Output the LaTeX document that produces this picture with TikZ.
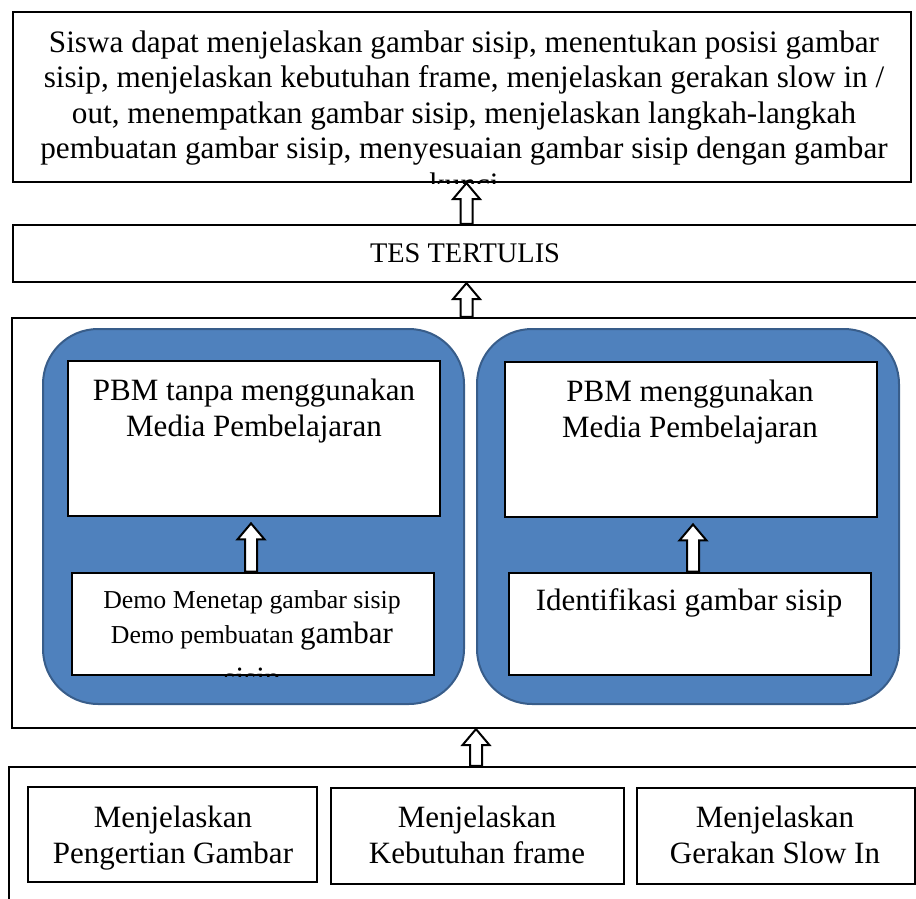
\documentclass[tikz,border=0pt]{standalone}
\usepackage{fontspec}
\setmainfont{Liberation Serif}
\usetikzlibrary{calc,fit,positioning}

\definecolor{panelfill}{HTML}{4F81BD}
\definecolor{paneldraw}{HTML}{385D8A}

\newcommand{\bodysize}{\fontsize{15.5}{18}\selectfont}
\newcommand{\demosize}{\fontsize{12.9}{17.5}\selectfont}

% hollow block arrow from the lower box (#1) up to the upper box (#2)
\newcommand{\liftarrow}[2]{%
  \draw[hollow] let \p1 = (#1), \p2 = (#2) in
    (\x1,\y2) -- (\x1-6.75pt,\y2-8pt) -- (\x1-3pt,\y2-8pt) -- (\x1-3pt,\y1)
    -- (\x1+3pt,\y1) -- (\x1+3pt,\y2-8pt) -- (\x1+6.75pt,\y2-8pt) -- cycle;}

\begin{document}
\begin{tikzpicture}[x=0.5pt, y=-0.5pt,
    frame/.style={rectangle, draw, line width=1.1pt, inner sep=0pt},
    card/.style={rectangle, draw, fill=white, line width=1.4pt, inner sep=0pt},
    panel/.style={rectangle, draw=paneldraw, fill=panelfill, line width=1pt, rounded corners=27.5pt, inner sep=0pt},
    caption/.style={inner sep=0pt, align=center, font=\bodysize},
    hollow/.style={draw, fill=white, line width=1pt, line join=miter}
  ]
  \clip (0,0) rectangle (916,899);

  % Frames
  \node[frame, fit={(13,12) (911,182)}] (goal) {};
  \node[frame, fit={(13,225) (920,282)}] (test) {};
  \node[frame, fit={(12,318) (940,728)}] (learning) {};
  \node[frame, fit={(9,767) (940,960)}] (material) {};

  % Panels: without and with media
  \node[panel, fit={(43,329) (464,704)}] (plain) {};
  \node[panel, fit={(477,329) (899,704)}] (media) {};

  \node[card, fit={(68,361) (440,516)}] (plainpbm) {};
  \node[card, fit={(72,573) (434,675)}] (demo) {};
  \node[card, fit={(505,362) (877,517)}] (mediapbm) {};
  \node[card, fit={(509,573) (871,675)}] (identify) {};

  % Material boxes
  \node[card, fit={(28,787) (317,882)}] (meaning) {};
  \node[card, fit={(331,788) (624,884)}] (frames) {};
  \node[card, fit={(637,788) (915,884)}] (slowin) {};

  % Texts
  \begin{scope}
    \clip (goal.south west) rectangle (goal.north east);
    \node[caption, anchor=north, font=\fontsize{15.6}{17.8}\selectfont] (goaltext) at (464,30)
      {Siswa dapat menjelaskan gambar sisip, menentukan posisi gambar\\
       sisip, menjelaskan kebutuhan frame, menjelaskan gerakan slow in /\\
       out, menempatkan gambar sisip, menjelaskan langkah-langkah\\
       pembuatan gambar sisip, menyesuaian gambar sisip dengan gambar\\
       kunci};
  \end{scope}

  \node[caption, anchor=base, font=\fontsize{14.2}{16}\selectfont] (testtext) at (465,263) {TES TERTULIS};

  \node[caption, anchor=north] (plaintext) at (254,379)
    {PBM tanpa menggunakan\\ Media Pembelajaran};
  \node[caption, anchor=north] (mediatext) at (690,380)
    {PBM menggunakan\\ Media Pembelajaran};

  \begin{scope}
    \clip (demo.south west) rectangle (demo.north east);
    \node[caption, anchor=north, font=\fontsize{15.5}{17.5}\selectfont] (demotext) at (252,590)
      {{\demosize Demo Menetap gambar sisip}\\
       {\demosize Demo pembuatan }gambar\\[5pt]
       sisip};
  \end{scope}

  \node[caption, anchor=base] (identifytext) at (689,610) {Identifikasi gambar sisip};

  \node[caption, anchor=north] (meaningtext) at (173,806) {Menjelaskan\\ Pengertian Gambar};
  \node[caption, anchor=north] (framestext) at (477,806) {Menjelaskan\\ Kebutuhan frame};
  \node[caption, anchor=north] (slowintext) at (775,806) {Menjelaskan\\ Gerakan Slow In};

  % Arrows
  \liftarrow{test.north}{goal.south}
  \liftarrow{learning.north -| test.south}{test.south}
  \liftarrow{material.north -| learning.south}{learning.south}
  \liftarrow{$(demo.north)+(-2,0)$}{$(plainpbm.south)+(0,6)$}
  \liftarrow{$(identify.north)+(3,0)$}{$(mediapbm.south)+(0,6)$}
\end{tikzpicture}
\end{document}
